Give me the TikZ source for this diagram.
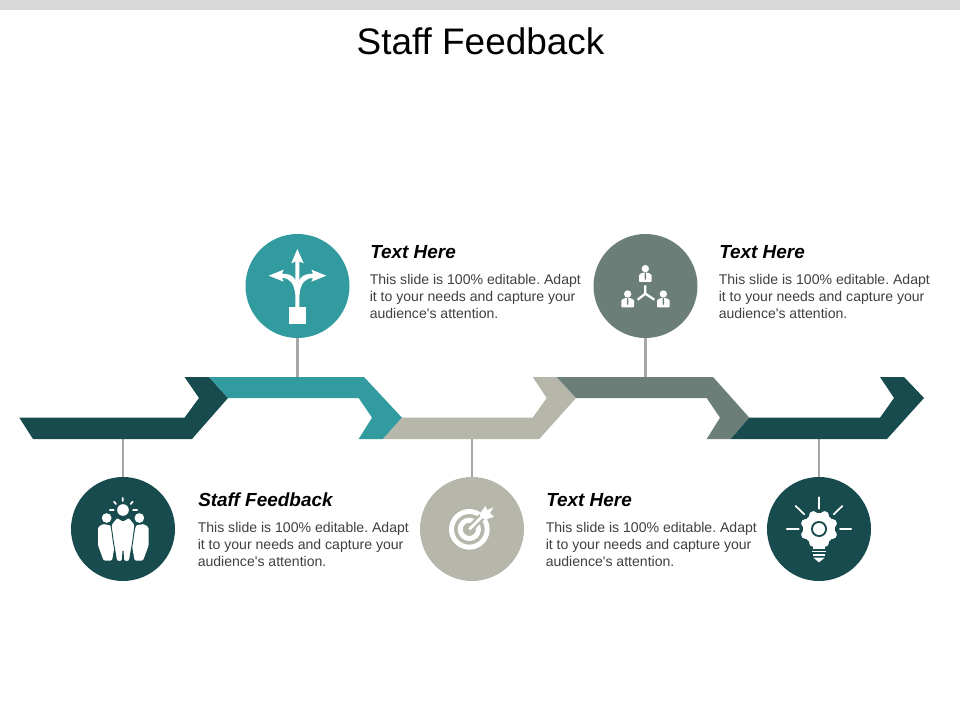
\documentclass[tikz,border=0pt]{standalone}
\usepackage{fontspec}
\setmainfont{Liberation Sans}
\definecolor{cdark}{HTML}{184B4D}
\definecolor{cteal}{HTML}{319B9F}
\definecolor{cbeige}{HTML}{B7B6AA}
\definecolor{cgreen}{HTML}{6B7F78}
\definecolor{cline}{HTML}{A6A6A6}
\definecolor{cbar}{HTML}{D9D9D9}
\definecolor{cbody}{HTML}{404040}
\tikzset{
  circ/.style={circle,minimum size=78pt,inner sep=0pt,draw=none},
  conn/.style={draw=cline,line width=2.1pt},
  heading/.style={anchor=base west,inner sep=0pt,font=\fontsize{14.2}{16}\selectfont\bfseries\itshape,text=black},
  bodytxt/.style={anchor=north west,inner sep=0pt,align=left,text=cbody,font=\frenchspacing\fontsize{10.55}{12.4}\selectfont},
  zoomed/.style={x=0.25pt,y=-0.25pt}
}
\newcommand{\bodylines}{This slide is 100\% editable. Adapt\\it to your needs and capture your\\audience\textquotesingle s attention.}
\newcommand{\netperson}[2]{%
  \fill[white] (#1,#2) circle (11);
  \fill[white,rounded corners=0.7pt] (#1-19,#2+40) -- (#1-19,#2+18) -- (#1-8,#2+12) -- (#1+8,#2+12) -- (#1+19,#2+18) -- (#1+19,#2+40) -- cycle;
  \fill[cgreen] (#1-1.5,#2+12) -- (#1+1.5,#2+12) -- (#1+2.5,#2+28) -- (#1,#2+34) -- (#1-2.5,#2+28) -- cycle;
}
\begin{document}
\begin{tikzpicture}[x=0.75pt,y=-0.75pt]
\useasboundingbox (0,0) rectangle (960,720);
\fill[white] (0,0) rectangle (960,720);
\fill[cbar] (0,0) rectangle (960,10);
\node[inner sep=0pt,font=\fontsize{27.7}{32}\selectfont,anchor=base] (title) at (480.5,54.5) {Staff Feedback};

% circles and connector junctions
\node[circ,fill=cdark] (c1) at (123,529) {};
\node[circ,fill=cteal] (c2) at (297.5,286) {};
\node[circ,fill=cbeige] (c3) at (472,529) {};
\node[circ,fill=cgreen] (c4) at (645.5,286) {};
\node[circ,fill=cdark] (c5) at (819,529) {};
\coordinate (j1) at (123,438);
\coordinate (j2) at (297.5,378);
\coordinate (j3) at (472,438);
\coordinate (j4) at (645.5,378);
\coordinate (j5) at (819,438);
\draw[conn] (c1) -- (j1);
\draw[conn] (c2) -- (j2);
\draw[conn] (c3) -- (j3);
\draw[conn] (c4) -- (j4);
\draw[conn] (c5) -- (j5);

% ribbon
\fill[cdark] (19.3,417.7) -- (184.5,417.7) -- (199,398) -- (184.5,377) -- (209,377) -- (228,398) -- (192,439) -- (33,439) -- cycle;
\fill[cteal] (209,377) -- (364,377) -- (402,417.7) -- (383,439) -- (358.7,439) -- (372,417.7) -- (358.7,398) -- (228,398) -- cycle;
\fill[cbeige] (402,417.7) -- (532.7,417.7) -- (546.7,398) -- (532.7,377) -- (556.7,377) -- (576,398) -- (539.3,439) -- (383,439) -- cycle;
\fill[cgreen] (556.7,377) -- (713,377) -- (749.3,417.7) -- (730.7,439) -- (706.7,439) -- (720,417.7) -- (706.7,398) -- (576,398) -- cycle;
\fill[cdark] (749.3,417.7) -- (880,417.7) -- (894,398) -- (880,377) -- (904,377) -- (924,398) -- (887,439) -- (730.7,439) -- cycle;

% texts
\node[heading] (h2) at (370,258.5) {Text Here};
\node[bodytxt] (b2) at (369.5,274.5) {\bodylines};
\node[heading] (h4) at (719,258.5) {Text Here};
\node[bodytxt] (b4) at (718.5,274.5) {\bodylines};
\node[heading] (h1) at (198,506.5) {Staff Feedback};
\node[bodytxt] (b1) at (197.5,522.5) {\bodylines};
\node[heading] (h3) at (546,506.5) {Text Here};
\node[bodytxt] (b3) at (545.5,522.5) {\bodylines};

% icon: people
\begin{scope}[shift={(60,470)},zoomed]
  \fill[white] (189,120) circle (17.5);
  \fill[white] (140,144) circle (14.5);
  \fill[white] (238,144) circle (14.5);
  \fill[white,rounded corners=1pt] (114,226) -- (114,172) -- (128,162) -- (152,166) -- (165,222) -- (156,272) -- (131,272) -- cycle;
  \fill[white,rounded corners=1pt] (266,226) -- (266,172) -- (252,162) -- (228,166) -- (215,222) -- (224,272) -- (249,272) -- cycle;
  \fill[white,draw=cdark,line width=0.7pt,rounded corners=1pt] (153,164) -- (171,142) -- (189,153) -- (207,142) -- (225,164) -- (218,215) -- (208,274) -- (191,274) -- (189,240) -- (187,274) -- (170,274) -- (160,215) -- cycle;
  \draw[white,line width=1.3pt,line cap=round]
    (188,84) -- (188,93) (162,95) -- (168,102) (218,95) -- (212,102) (149,120) -- (161,120) (219,120) -- (232,120);
\end{scope}

% icon: arrows
\begin{scope}[shift={(238,228)},zoomed]
  \fill[white] (153,237) rectangle (205,288);
  \fill[white] (178,63) -- (197,106) -- (184,100) -- (184,240) -- (172,240) -- (172,100) -- (160,106) -- cycle;
  \fill[white] (92,143) -- (137,125) -- (132,137) .. controls (165,137) and (178,150) .. (184,200) -- (172,200) .. controls (168,165) and (155,150) .. (132,150) -- (137,161) -- cycle;
  \fill[white] (265,143) -- (220,125) -- (225,137) .. controls (192,137) and (178,150) .. (172,200) -- (184,200) .. controls (188,165) and (202,150) .. (225,150) -- (220,161) -- cycle;
\end{scope}

% icon: target
\begin{scope}[shift={(410,470)},zoomed]
  \fill[white,even odd rule] (178,178) circle (61) (178,178) circle (46);
  \fill[white,even odd rule] (178,178) circle (35) (178,178) circle (20);
  \draw[cbeige,line width=5.5pt] (184,172) -- (240,116);
  \draw[white,line width=2.2pt] (178,178) -- (222,134);
  \fill[white] (208,134) -- (226,108) -- (232,120) -- (250,112) -- (240,130) -- (252,140) -- (236,146) -- (222,148) -- cycle;
\end{scope}

% icon: network
\begin{scope}[shift={(586,228)},zoomed]
  \netperson{178}{122}
  \netperson{125}{198}
  \netperson{232}{198}
  \draw[white,line width=1.7pt] (178,172) -- (178,197) (155,215) -- (178,197) -- (205,215);
\end{scope}

% icon: gear bulb
\begin{scope}[shift={(760,470)},zoomed]
  \draw[white,line width=1.3pt,line cap=round]
    (177,82) -- (177,116) (80,177) -- (116,177) (240,177) -- (274,177) (107,108) -- (133,133) (247,108) -- (221,133);
  \fill[white] (177,177) circle (48);
  \foreach \a in {22.5,67.5,...,360}
    \fill[white] (177,177) ++(\a:44) circle (13);
  \fill[white] (160,215) rectangle (194,236);
  \fill[cdark] (177,177) circle (24);
  \fill[white] (177,177) circle (18);
  \draw[white,line width=1.2pt] (157,244) -- (197,244) (158,255) -- (196,255);
  \fill[white] (160,263) -- (194,263) -- (177,277) -- cycle;
\end{scope}
\end{tikzpicture}
\end{document}
